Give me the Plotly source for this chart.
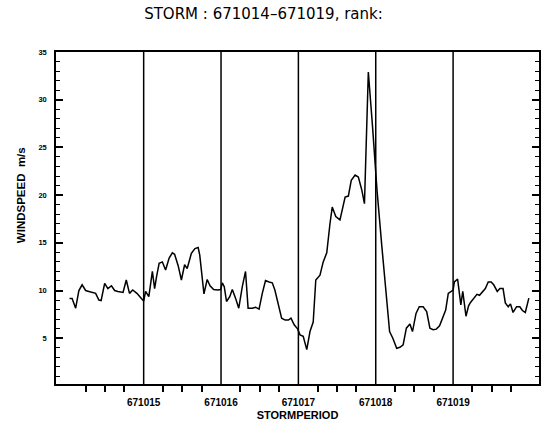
import plotly.graph_objects as go

# hours since 671014 00:00
hours = [1.0, 1.8, 2.9, 3.9, 4.9, 6.0, 7.0, 8.0, 9.1, 10.1, 10.8, 11.9, 12.9, 14.0, 15.0, 16.0,
         17.1, 17.6, 18.6, 19.6, 20.6, 21.9, 23.3, 24.0,
         24.6, 25.6, 26.7, 27.4, 28.0, 28.8, 29.8, 30.8, 31.9, 32.9, 33.6, 34.7, 35.7, 36.7,
         37.5, 38.8, 39.9, 40.9, 41.4, 42.7, 43.7, 44.6, 45.7, 47.0, 47.9,
         48.4, 49.0, 49.7, 50.7, 51.5, 52.5, 53.5, 54.6, 55.6, 56.4, 57.7, 58.7, 59.8, 60.8,
         61.8, 62.9, 63.9, 64.7, 65.8, 66.8, 67.9, 68.9, 69.7, 70.7, 71.8,
         72.5, 73.5, 74.6, 75.6, 76.6, 77.4, 78.7, 79.7, 80.8, 81.8, 82.5, 83.6, 84.9, 86.5,
         87.5, 88.4, 89.6, 90.6, 91.7, 92.5, 93.7, 95.0,
         96.4, 97.9, 98.9, 100.3, 101.3, 102.5, 103.5, 104.5, 105.5, 106.6, 107.4, 108.5,
         109.5, 110.7, 111.8, 112.8, 113.8, 114.8, 115.8, 116.8, 117.7, 118.5, 119.2, 120.0,
         120.4, 121.4, 122.4, 123.0, 124.0, 124.8, 125.4, 126.2, 127.4, 128.2, 130.0, 130.9,
         131.8, 132.6, 133.7, 134.5, 135.5, 136.2, 137.1, 137.8, 138.6, 139.7, 140.7, 141.5,
         142.4, 143.5]
windspeed = [9.15, 9.15, 8.15, 10.0, 10.6, 10.0, 9.9, 9.8, 9.7, 9.0, 8.95, 10.75, 10.2, 10.5, 10.0, 9.9,
             9.8, 9.8, 11.1, 9.7, 10.05, 9.7, 9.15, 8.9,
             9.9, 9.35, 12.0, 10.2, 11.45, 12.85, 13.0, 12.15, 13.4, 13.95, 13.8, 12.6, 11.1, 12.7,
             12.3, 13.9, 14.4, 14.5, 13.7, 9.65, 11.15, 10.5, 10.1, 10.05, 10.1,
             10.8, 10.4, 8.85, 9.35, 10.1, 9.2, 8.15, 10.4, 12.0, 8.15, 8.15, 8.25, 8.05, 9.7,
             11.05, 10.9, 10.8, 10.05, 8.65, 7.1, 6.9, 6.9, 7.1, 6.4, 5.95,
             5.35, 5.2, 3.8, 5.7, 6.7, 11.1, 11.6, 13.0, 13.95, 17.0, 18.75, 17.75, 17.4, 19.8,
             19.9, 21.55, 22.1, 21.9, 20.5, 19.1, 32.9, 27.2,
             20.5, 14.6, 11.1, 5.7, 5.0, 3.95, 4.05, 4.3, 6.05, 6.5, 5.7, 7.6,
             8.3, 8.3, 7.8, 6.05, 5.9, 5.95, 6.3, 7.1, 7.95, 9.7, 9.9, 10.05,
             10.9, 11.2, 8.5, 9.9, 7.3, 8.4, 8.75, 9.1, 9.6, 9.5, 10.2, 10.9,
             10.9, 10.6, 9.9, 10.2, 10.2, 8.7, 8.3, 8.6, 7.7, 8.3, 8.3, 7.9,
             7.7, 9.2]

day_hours = [24, 48, 72, 96, 120]
day_labels = ["671015", "671016", "671017", "671018", "671019"]
y_tickvals = [5, 10, 15, 20, 25, 30, 35]
six_hour_ticks = [h for h in range(6, 144, 6) if h % 24 != 0]

fig = go.Figure()
fig.add_trace(go.Scatter(x=hours, y=windspeed, mode="lines",
                         line=dict(color="black", width=1.5), showlegend=False))

for h in day_hours:
    fig.add_vline(x=h, line=dict(color="black", width=1.5))

fig.update_layout(
    width=541, height=428,
    margin=dict(l=56, r=0, t=52, b=44),
    paper_bgcolor="white", plot_bgcolor="white",
    title=dict(text="STORM : 671014\u2013671019, rank:", x=263.5 / 541, xanchor="center",
               y=1 - 14 / 428, yanchor="middle",
               font=dict(family="DejaVu Sans", size=15, color="black")),
    xaxis=dict(range=[-3.2, 146.65], showline=True, linecolor="black", linewidth=1.5,
               mirror=True, showgrid=False, zeroline=False,
               tickvals=day_hours, ticktext=day_labels, ticks="",
               ticklabelstandoff=8,
               tickfont=dict(family="Liberation Sans", size=10, color="black", weight="bold"),
               minor=dict(tickvals=six_hour_ticks, ticks="outside", ticklen=6,
                          tickcolor="black", tickwidth=1.5, showgrid=False),
               title=dict(text="STORMPERIOD", standoff=5,
                          font=dict(family="Liberation Sans", size=11, color="black",
                                    weight="bold"))),
    yaxis=dict(range=[0.2, 35], showline=True, linecolor="black", linewidth=1.5,
               mirror="allticks", showgrid=False, zeroline=False,
               tickvals=y_tickvals, ticks="inside", ticklen=7, tickwidth=1.5,
               tickcolor="black", ticklabelstandoff=6,
               tickfont=dict(family="Liberation Sans", size=7.5, color="black", weight="bold"),
               minor=dict(dtick=1, ticks="inside", ticklen=4, tickcolor="black",
                          tickwidth=1.2, showgrid=False)),
    annotations=[dict(text="WINDSPEED  m/s", textangle=-90, xref="paper", yref="paper",
                      x=(21 - 56) / 485, y=(384 - 195) / 332, xanchor="center", yanchor="middle",
                      showarrow=False,
                      font=dict(family="Liberation Sans", size=11.5, color="black",
                                weight="bold"))],
)

fig.write_html("out.html")
